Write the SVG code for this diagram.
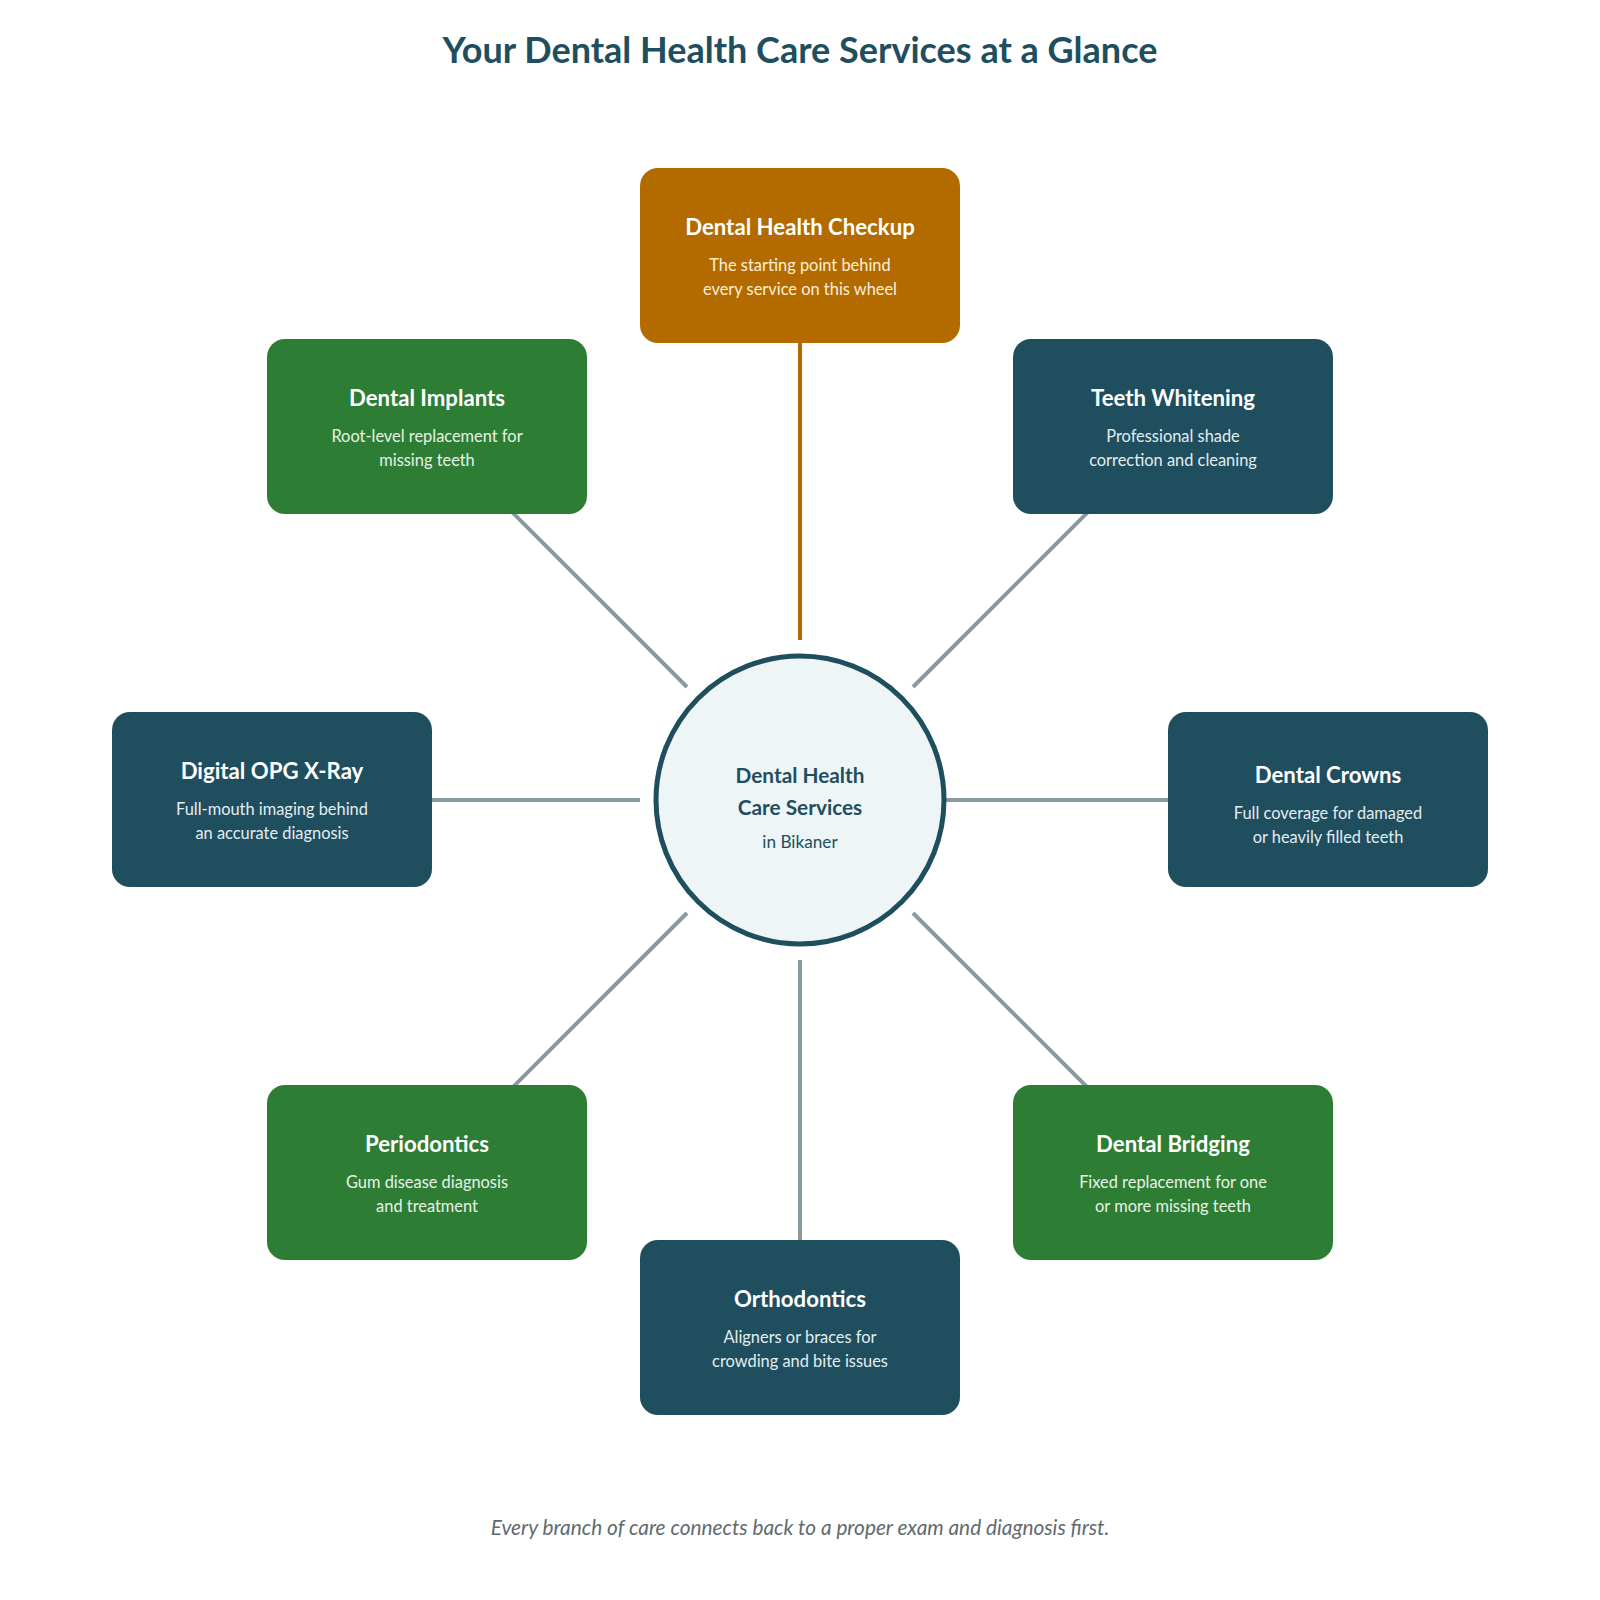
<svg xmlns="http://www.w3.org/2000/svg" width="1600" height="1600" viewBox="0 0 1600 1600">
<style>
.bg{fill:#ffffff}
.title{font-family:Lato,"Liberation Sans",sans-serif;font-weight:700;font-size:36px;fill:#1f4e5f;text-anchor:middle}
.foot{font-family:Lato,"Liberation Sans",sans-serif;font-style:italic;font-size:20.8px;fill:#5f6b70;text-anchor:middle}
.box{stroke:none}
.teal{fill:#1f4e5f}
.green{fill:#2e7d34}
.orange{fill:#b36b00}
.bt{font-family:Lato,"Liberation Sans",sans-serif;font-weight:700;font-size:22.2px;fill:#ffffff;text-anchor:middle}
.bs{font-family:Lato,"Liberation Sans",sans-serif;font-size:16.4px;text-anchor:middle}
.teal-s{fill:#e3edf0}
.green-s{fill:#e6f3e6}
.orange-s{fill:#fcefd9}
.conn{stroke:#8a9aa1;stroke-width:4;fill:none}
.conn-main{stroke:#b36b00;stroke-width:4;fill:none}
.hub{fill:#eef5f6;stroke:#1f4e5f;stroke-width:5}
.ht{font-family:Lato,"Liberation Sans",sans-serif;font-weight:700;font-size:20.8px;fill:#1f4e5f;text-anchor:middle}
.hs{font-family:Lato,"Liberation Sans",sans-serif;font-size:17.2px;fill:#1f4e5f;text-anchor:middle}
</style>
<rect class="bg" x="0" y="0" width="1600" height="1600"/>
<text class="title" x="800" y="63">Your Dental Health Care Services at a Glance</text>

<g id="connectors">
  <line class="conn-main" x1="800" y1="640" x2="800" y2="343"/>
  <line class="conn" x1="687" y1="687" x2="427" y2="427"/>
  <line class="conn" x1="913" y1="687" x2="1173" y2="427"/>
  <line class="conn" x1="640" y1="800" x2="272" y2="800"/>
  <line class="conn" x1="940" y1="800" x2="1328" y2="800"/>
  <line class="conn" x1="687" y1="913" x2="427" y2="1173"/>
  <line class="conn" x1="913" y1="913" x2="1173" y2="1173"/>
  <line class="conn" x1="800" y1="960" x2="800" y2="1328"/>
</g>

<g id="hub">
  <circle class="hub" cx="800" cy="800" r="144"/>
  <text class="ht" x="800" y="783">Dental Health</text>
  <text class="ht" x="800" y="815">Care Services</text>
  <text class="hs" x="800" y="848">in Bikaner</text>
</g>

<g id="node-checkup">
  <rect class="box orange" x="640" y="168" width="320" height="175" rx="18"/>
  <text class="bt" x="800" y="235">Dental Health Checkup</text>
  <text class="bs orange-s" x="800" y="271">The starting point behind</text>
  <text class="bs orange-s" x="800" y="295">every service on this wheel</text>
</g>

<g id="node-implants">
  <rect class="box green" x="267" y="339" width="320" height="175" rx="18"/>
  <text class="bt" x="427" y="406">Dental Implants</text>
  <text class="bs green-s" x="427" y="442">Root-level replacement for</text>
  <text class="bs green-s" x="427" y="466">missing teeth</text>
</g>

<g id="node-whitening">
  <rect class="box teal" x="1013" y="339" width="320" height="175" rx="18"/>
  <text class="bt" x="1173" y="406">Teeth Whitening</text>
  <text class="bs teal-s" x="1173" y="442">Professional shade</text>
  <text class="bs teal-s" x="1173" y="466">correction and cleaning</text>
</g>

<g id="node-opg">
  <rect class="box teal" x="112" y="712" width="320" height="175" rx="18"/>
  <text class="bt" x="272" y="779">Digital OPG X-Ray</text>
  <text class="bs teal-s" x="272" y="815">Full-mouth imaging behind</text>
  <text class="bs teal-s" x="272" y="839">an accurate diagnosis</text>
</g>

<g id="node-crowns">
  <rect class="box teal" x="1168" y="712" width="320" height="175" rx="18"/>
  <text class="bt" x="1328" y="783">Dental Crowns</text>
  <text class="bs teal-s" x="1328" y="819">Full coverage for damaged</text>
  <text class="bs teal-s" x="1328" y="843">or heavily filled teeth</text>
</g>

<g id="node-periodontics">
  <rect class="box green" x="267" y="1085" width="320" height="175" rx="18"/>
  <text class="bt" x="427" y="1152">Periodontics</text>
  <text class="bs green-s" x="427" y="1188">Gum disease diagnosis</text>
  <text class="bs green-s" x="427" y="1212">and treatment</text>
</g>

<g id="node-bridging">
  <rect class="box green" x="1013" y="1085" width="320" height="175" rx="18"/>
  <text class="bt" x="1173" y="1152">Dental Bridging</text>
  <text class="bs green-s" x="1173" y="1188">Fixed replacement for one</text>
  <text class="bs green-s" x="1173" y="1212">or more missing teeth</text>
</g>

<g id="node-orthodontics">
  <rect class="box teal" x="640" y="1240" width="320" height="175" rx="18"/>
  <text class="bt" x="800" y="1307">Orthodontics</text>
  <text class="bs teal-s" x="800" y="1343">Aligners or braces for</text>
  <text class="bs teal-s" x="800" y="1367">crowding and bite issues</text>
</g>

<text class="foot" x="800" y="1535">Every branch of care connects back to a proper exam and diagnosis first.</text>
</svg>
